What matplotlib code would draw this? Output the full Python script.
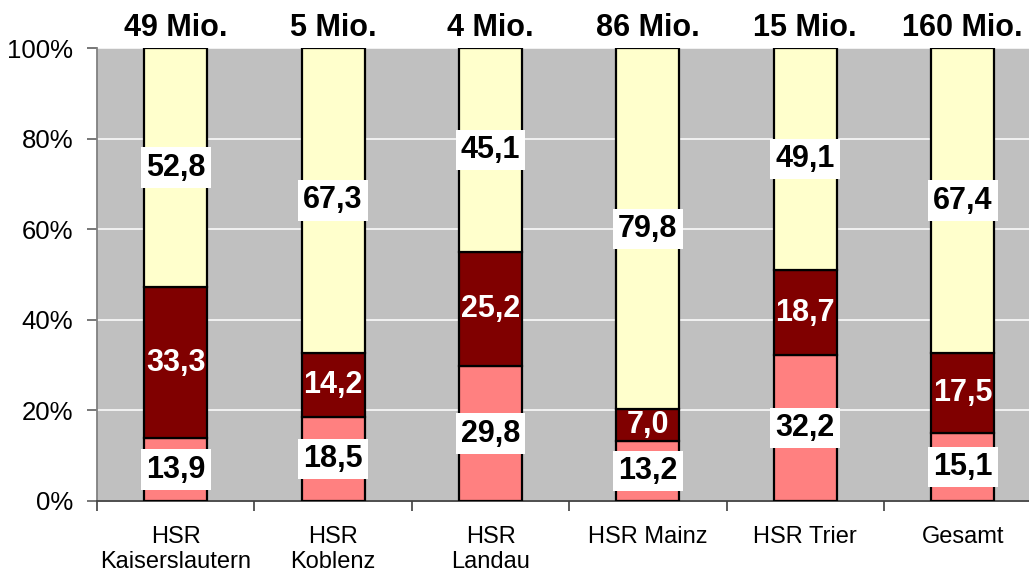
import matplotlib
matplotlib.use("Agg")
import matplotlib.pyplot as plt
import numpy as np
from matplotlib.ticker import FixedLocator

categories = ["HSR\nKaiserslautern", "HSR\nKoblenz", "HSR\nLandau", "HSR Mainz", "HSR Trier", "Gesamt"]
totals = ["49 Mio.", "5 Mio.", "4 Mio.", "86 Mio.", "15 Mio.", "160 Mio."]
bottom_vals = [13.9, 18.5, 29.8, 13.2, 32.2, 15.1]
middle_vals = [33.3, 14.2, 25.2, 7.0, 18.7, 17.5]
top_vals = [52.8, 67.3, 45.1, 79.8, 49.1, 67.4]

plt.rcParams['font.family'] = ['Liberation Sans', 'DejaVu Sans']

fig = plt.figure(figsize=(10.29, 5.75), dpi=100)
ax = fig.add_axes([97/1029, 74/575, 944.4/1029, 453/575])
ax.set_facecolor("#C0C0C0")

x = np.arange(len(categories))
w = 0.4
b = np.array(bottom_vals)
m = np.array(middle_vals)
t = np.array(top_vals)

ax.bar(x, b, w, color="#FF8080", edgecolor="black", linewidth=1.6, zorder=3)
ax.bar(x, m, w, bottom=b, color="#800000", edgecolor="black", linewidth=1.6, zorder=3)
ax.bar(x, t, w, bottom=b + m, color="#FFFFCC", edgecolor="black", linewidth=1.6, zorder=3)

def fmt(v):
    return f"{v:.1f}".replace(".", ",")

box = dict(boxstyle="square,pad=0.17", fc="white", ec="none")
for i in range(len(categories)):
    ax.text(x[i], b[i] / 2, fmt(b[i]), ha="center", va="center", fontsize=22,
            fontweight="bold", color="black", bbox=box, zorder=5)
    ax.text(x[i], b[i] + m[i] / 2, fmt(m[i]), ha="center", va="center", fontsize=22,
            fontweight="bold", color="white", zorder=5)
    ax.text(x[i], b[i] + m[i] + t[i] / 2, fmt(t[i]), ha="center", va="center", fontsize=22,
            fontweight="bold", color="black", bbox=box, zorder=5)
    ax.text(x[i], 101.2, totals[i], ha="center", va="bottom", fontsize=22,
            fontweight="bold", color="black", clip_on=False)

ax.set_xlim(-0.5, 5.5)
ax.set_ylim(0, 100)
ax.set_yticks([0, 20, 40, 60, 80, 100])
ax.set_yticklabels(["0%", "20%", "40%", "60%", "80%", "100%"], fontsize=18.5)
ax.yaxis.grid(True, color="white", linewidth=1.1, zorder=1)
ax.set_axisbelow(True)

ax.set_xticks(x)
ax.set_xticklabels(categories, fontsize=17, linespacing=1.2, va="top")
ax.xaxis.set_minor_locator(FixedLocator(np.arange(-0.5, 6, 1.0)))
ax.tick_params(axis="x", which="major", length=0, pad=18)
ax.tick_params(axis="x", which="minor", length=7, width=1.2, color="#404040", direction="out")
ax.tick_params(axis="y", length=7, width=1.2, color="#606060", pad=10)

for s in ["top", "right"]:
    ax.spines[s].set_visible(False)
ax.spines["left"].set_color("#808080")
ax.spines["left"].set_linewidth(1.3)
ax.spines["bottom"].set_color("#404040")
ax.spines["bottom"].set_linewidth(1.3)

fig.savefig("out.png", dpi=100)
